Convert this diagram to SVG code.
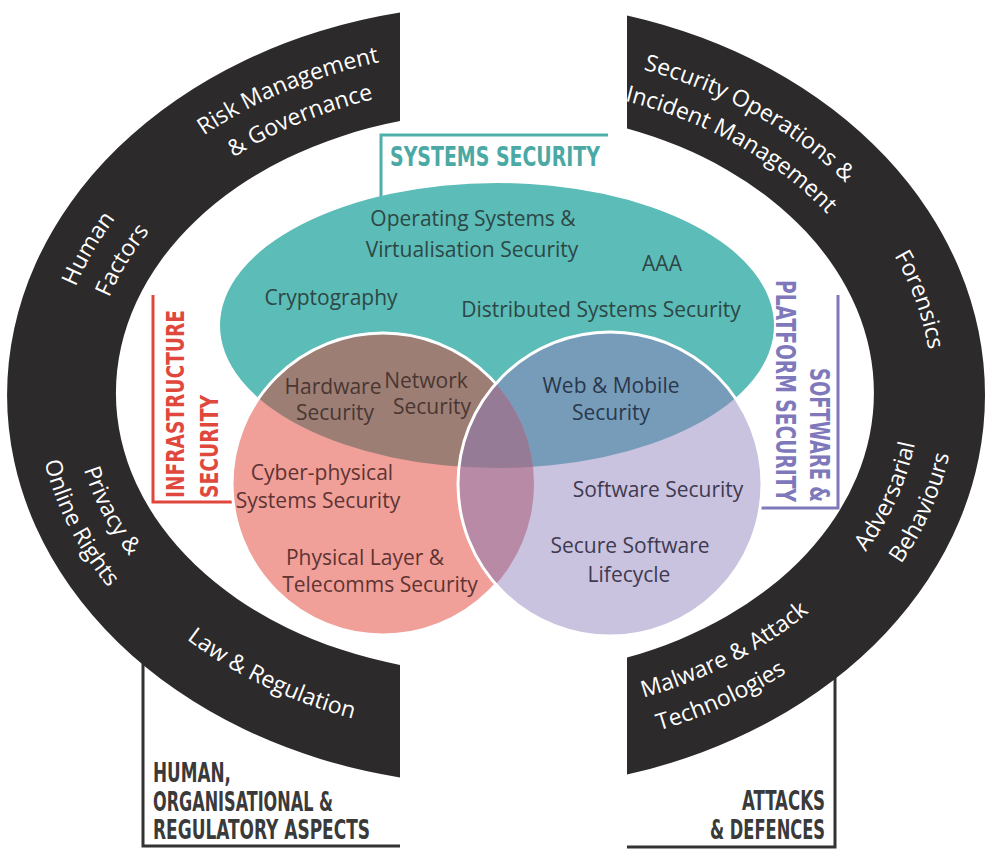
<svg xmlns="http://www.w3.org/2000/svg" width="992" height="852" viewBox="0 0 992 852">
<defs>
<style>
.arc{fill:#2c2a2b}
.at{font-family:"Open Sans","DejaVu Sans",sans-serif;font-size:23px;fill:#ffffff}
.vt{font-family:"Open Sans","DejaVu Sans",sans-serif;font-size:21px;text-anchor:middle}
.bt{font-family:"DejaVu Sans Condensed","DejaVu Sans",sans-serif;font-weight:bold;font-stretch:condensed}
.ln{fill:none;stroke-width:3}
</style>
<clipPath id="clipEll"><ellipse cx="497" cy="325.5" rx="277" ry="142.5"/></clipPath>
<clipPath id="clipRed"><circle cx="383" cy="484" r="151"/></clipPath>
<path id="p1" d="M79.6,277.9 A442,343 0 0 1 569.7,54.8"/>
<path id="p2" d="M110.7,293.7 A407,308 0 0 1 558.3,88.6"/>
<path id="p3" d="M75.6,499 A442,343 0 0 1 288.5,90.2"/>
<path id="p4" d="M108.3,486.6 A407,308 0 0 1 306.8,120.3"/>
<path id="p5" d="M98.3,280.3 A424,325 0 0 0 282.1,673.6"/>
<path id="p6" d="M64,268.9 A460,361 0 0 0 265.3,705.3"/>
<path id="p7" d="M70.6,489 A443,344 0 0 0 543.8,735"/>
<path id="p8" d="M481.3,50.2 A442,343 0 0 1 928.5,322.3"/>
<path id="p9" d="M487.5,85.1 A407,308 0 0 1 895.3,333.2"/>
<path id="p10" d="M751.7,120 A436,337 0 0 1 888.2,540.2"/>
<path id="p11" d="M725.7,666.2 A424,325 0 0 0 886.9,267.1"/>
<path id="p12" d="M744.5,696.8 A460,361 0 0 0 920.4,253.7"/>
<path id="p13" d="M469.4,717.4 A424,325 0 0 0 908.1,469.4"/>
<path id="p14" d="M433.6,750.6 A460,361 0 0 0 934,503.4"/>
</defs>
<rect width="992" height="852" fill="#ffffff"/>

<g id="human-org-box">
<path class="ln" stroke="#333333" d="M143,640 V846 H400"/>
<text class="bt" font-size="26" fill="#3a3a3a"><tspan x="153" y="782" textLength="78" lengthAdjust="spacingAndGlyphs">HUMAN,</tspan></text>
<text class="bt" font-size="26" fill="#3a3a3a"><tspan x="153" y="811" textLength="180" lengthAdjust="spacingAndGlyphs">ORGANISATIONAL &amp;</tspan></text>
<text class="bt" font-size="26" fill="#3a3a3a"><tspan x="153" y="839" textLength="217" lengthAdjust="spacingAndGlyphs">REGULATORY ASPECTS</tspan></text>
</g>

<g id="attacks-box">
<path class="ln" stroke="#333333" d="M835,650 V847 H627"/>
<text class="bt" font-size="26" fill="#3a3a3a" text-anchor="end"><tspan x="825" y="810" textLength="83" lengthAdjust="spacingAndGlyphs">ATTACKS</tspan></text>
<text class="bt" font-size="26" fill="#3a3a3a" text-anchor="end"><tspan x="825" y="839" textLength="115" lengthAdjust="spacingAndGlyphs">&amp; DEFENCES</tspan></text>
</g>

<g id="left-arc">
<path class="arc" d="M400,12.6 A489,390 0 0 0 400,777.4 L400,664.9 A380,281 0 0 1 400,121.1 Z"/>
<text class="at"><textPath href="#p1" startOffset="50%" text-anchor="middle">Risk Management</textPath></text>
<text class="at"><textPath href="#p2" startOffset="50%" text-anchor="middle">&amp; Governance</textPath></text>
<text class="at"><textPath href="#p3" startOffset="50%" text-anchor="middle">Human</textPath></text>
<text class="at"><textPath href="#p4" startOffset="50%" text-anchor="middle">Factors</textPath></text>
<text class="at"><textPath href="#p5" startOffset="50%" text-anchor="middle">Privacy &amp;</textPath></text>
<text class="at"><textPath href="#p6" startOffset="50%" text-anchor="middle">Online Rights</textPath></text>
<text class="at"><textPath href="#p7" startOffset="50%" text-anchor="middle">Law &amp; Regulation</textPath></text>
</g>

<g id="right-arc">
<path class="arc" d="M627,15.4 A489,394 0 0 1 627,774.6 L627,657.5 A378,282 0 0 0 627,128.5 Z"/>
<text class="at"><textPath href="#p8" startOffset="50%" text-anchor="middle">Security Operations &amp;</textPath></text>
<text class="at"><textPath href="#p9" startOffset="50%" text-anchor="middle">Incident Management</textPath></text>
<text class="at"><textPath href="#p10" startOffset="50%" text-anchor="middle">Forensics</textPath></text>
<text class="at"><textPath href="#p11" startOffset="50%" text-anchor="middle">Adversarial</textPath></text>
<text class="at"><textPath href="#p12" startOffset="50%" text-anchor="middle">Behaviours</textPath></text>
<text class="at"><textPath href="#p13" startOffset="50%" text-anchor="middle">Malware &amp; Attack</textPath></text>
<text class="at"><textPath href="#p14" startOffset="50%" text-anchor="middle">Technologies</textPath></text>
</g>

<g id="systems-security-box">
<path class="ln" stroke="#4fb0ab" d="M381,205 V135 H608"/>
<text class="bt" font-size="27" fill="#4aa9a4"><tspan x="390" y="166" textLength="210" lengthAdjust="spacingAndGlyphs">SYSTEMS SECURITY</tspan></text>
</g>

<g id="infrastructure-box">
<path class="ln" stroke="#e0483d" d="M153,295 V502 H245"/>
<text class="bt" font-size="25" fill="#e0483d" transform="translate(184,498) rotate(-90)"><tspan x="0" y="0" textLength="188" lengthAdjust="spacingAndGlyphs">INFRASTRUCTURE</tspan></text>
<text class="bt" font-size="25" fill="#e0483d" transform="translate(218,498) rotate(-90)"><tspan x="0" y="0" textLength="103" lengthAdjust="spacingAndGlyphs">SECURITY</tspan></text>
</g>

<g id="software-platform-box">
<path class="ln" stroke="#7f79bb" d="M838,295 V508 H750"/>
<text class="bt" font-size="26" fill="#7f79bb" transform="translate(810,368) rotate(90)"><tspan x="0" y="0" textLength="134" lengthAdjust="spacingAndGlyphs">SOFTWARE &amp;</tspan></text>
<text class="bt" font-size="26" fill="#7f79bb" transform="translate(776,280) rotate(90)"><tspan x="0" y="0" textLength="222" lengthAdjust="spacingAndGlyphs">PLATFORM SECURITY</tspan></text>
</g>

<g id="venn">
<g id="systems-security">
<ellipse cx="497" cy="325.5" rx="277" ry="142.5" fill="#5cbcb7"/>
</g>
<g id="infrastructure-security">
<circle cx="383" cy="484" r="151" fill="#f0a098"/>
<g clip-path="url(#clipEll)"><circle cx="383" cy="484" r="151" fill="#9c7e75"/></g>
<circle cx="383" cy="484" r="151" fill="none" stroke="#ffffff" stroke-width="3"/>
</g>
<g id="software-platform-security">
<circle cx="610" cy="484" r="152" fill="#c9c3df"/>
<g clip-path="url(#clipEll)"><circle cx="610" cy="484" r="152" fill="#779cba"/></g>
<g clip-path="url(#clipRed)"><circle cx="610" cy="484" r="152" fill="#b98aa5"/></g>
<g clip-path="url(#clipRed)"><g clip-path="url(#clipEll)"><circle cx="610" cy="484" r="152" fill="#957b96"/></g></g>
<circle cx="610" cy="484" r="152" fill="none" stroke="#ffffff" stroke-width="3"/>
</g>
</g>

<g id="venn-labels">
<g fill="#2d4746">
<text class="vt" x="473" y="226">Operating Systems &amp;</text>
<text class="vt" x="472" y="257">Virtualisation Security</text>
<text class="vt" x="662" y="271">AAA</text>
<text class="vt" x="331" y="305">Cryptography</text>
<text class="vt" x="601" y="317">Distributed Systems Security</text>
</g>
<g fill="#4a3631">
<text class="vt" x="333" y="394">Hardware</text>
<text class="vt" x="335" y="420">Security</text>
<text class="vt" x="426" y="388">Network</text>
<text class="vt" x="432" y="414">Security</text>
</g>
<g fill="#29384a">
<text class="vt" x="611" y="393">Web &amp; Mobile</text>
<text class="vt" x="611" y="420">Security</text>
</g>
<g fill="#5e3333">
<text class="vt" x="322" y="480">Cyber-physical</text>
<text class="vt" x="318" y="508">Systems Security</text>
<text class="vt" x="365" y="565">Physical Layer &amp;</text>
<text class="vt" x="380" y="592">Telecomms Security</text>
</g>
<g fill="#3f3a50">
<text class="vt" x="658" y="497">Software Security</text>
<text class="vt" x="630" y="553">Secure Software</text>
<text class="vt" x="629" y="582">Lifecycle</text>
</g>
</g>
</svg>
